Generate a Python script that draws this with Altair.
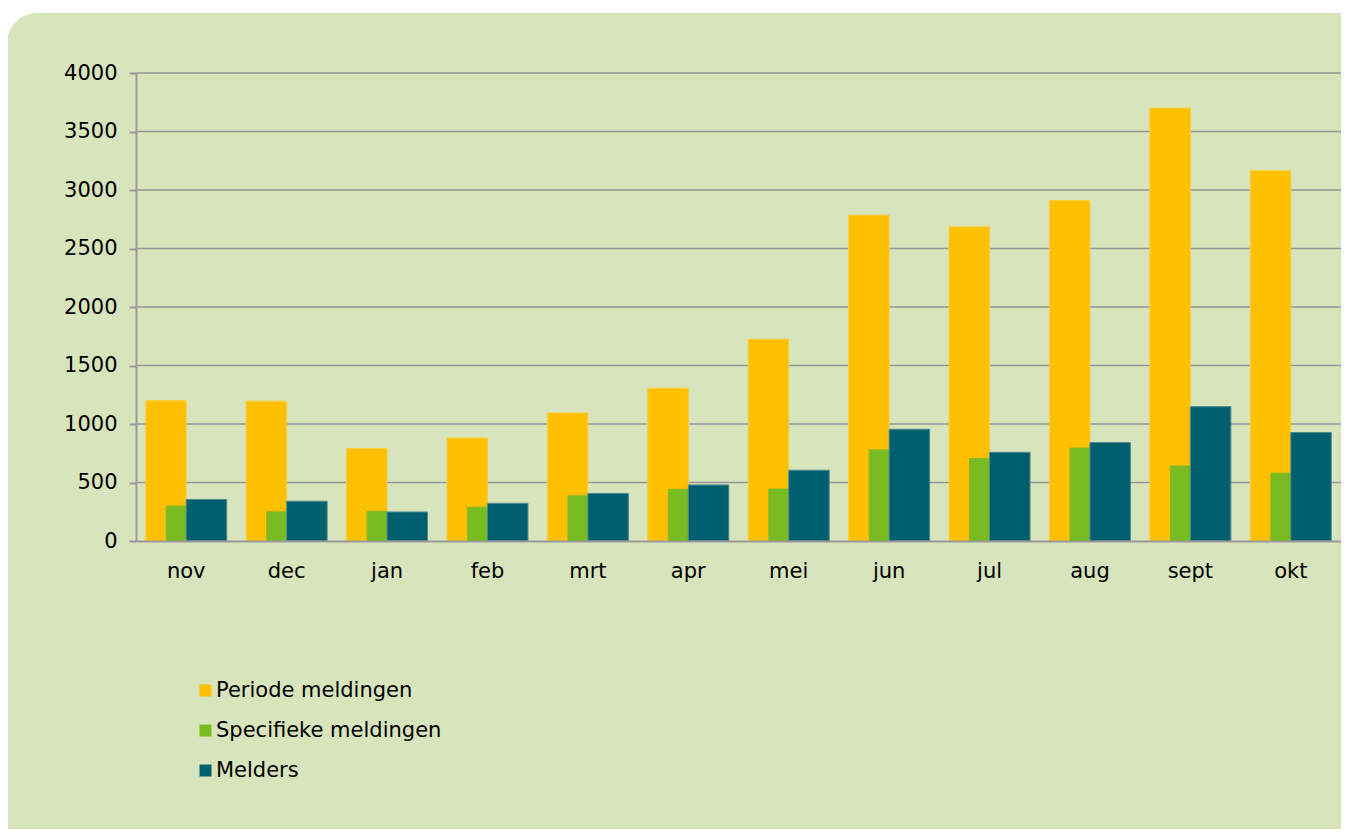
import altair as alt
import pandas as pd

months = ["nov", "dec", "jan", "feb", "mrt", "apr", "mei", "jun", "jul", "aug", "sept", "okt"]
periode = [1200, 1195, 790, 880, 1095, 1305, 1725, 2785, 2685, 2910, 3700, 3165]
specifiek = [300, 250, 255, 288, 387, 442, 445, 780, 705, 795, 642, 580]
melders = [355, 340, 248, 322, 407, 479, 605, 955, 758, 842, 1148, 927]
series_names = ["Periode meldingen", "Specifieke meldingen", "Melders"]
series_colors = ["#FFC000", "#79BC21", "#005F6E"]
y_ticks = [0, 500, 1000, 1500, 2000, 2500, 3000, 3500, 4000]

rows = []
for name, vals in zip(series_names, [periode, specifiek, melders]):
    for m, v in zip(months, vals):
        rows.append({"maand": m, "reeks": name, "waarde": v})
df = pd.DataFrame(rows)

W, H = 1205, 468
FONT = "DejaVu Sans"

x_enc = alt.X("maand:N", sort=months, title=None,
              scale=alt.Scale(paddingInner=0, paddingOuter=0),
              axis=alt.Axis(labelAngle=0, ticks=False, labelFontSize=21, labelPadding=19,
                            domainColor="#999999", domainWidth=2, grid=False, zindex=1,
                            labelColor="#000000", labelFont=FONT))
y_enc = alt.Y("waarde:Q", title=None,
              scale=alt.Scale(domain=[0, 4000], nice=False),
              axis=alt.Axis(values=y_ticks, format="d", grid=False, tickSize=7,
                            tickColor="#999999", tickWidth=2, domainColor="#999999",
                            domainWidth=2, labelFontSize=21, labelPadding=12, zindex=1,
                            labelColor="#000000", labelFont=FONT))
color_enc = alt.Color("reeks:N",
                      scale=alt.Scale(domain=series_names, range=series_colors),
                      legend=alt.Legend(title=None, orient="none", legendX=59, legendY=607,
                                        padding=0, symbolType="square", symbolSize=144,
                                        symbolStrokeWidth=0, labelFontSize=21,
                                        labelFont=FONT, labelColor="#000000",
                                        labelOffset=0, labelLimit=600, rowPadding=18,
                                        zindex=1))

background = alt.Chart(alt.Data(values=[{"a": 1}])).mark_rect(
    color="#D8E4BC", cornerRadius=30
).encode(x=alt.value(-129), x2=alt.value(W + 60), y=alt.value(-60), y2=alt.value(H + 320))

grid = alt.Chart(pd.DataFrame({"waarde": y_ticks[1:]})).mark_rule(
    color="#969696", strokeWidth=1.5
).encode(y=y_enc, x=alt.value(0), x2=alt.value(W))

base = alt.Chart(df)
bar_p = base.transform_filter(alt.datum.reeks == series_names[0]).mark_bar(
    width=40.5, xOffset=-20.25, stroke="#F4CF45", strokeWidth=1
).encode(x=x_enc, y=y_enc, color=color_enc)
bar_s = base.transform_filter(alt.datum.reeks == series_names[1]).mark_bar(
    width=20, xOffset=-10, stroke="#7FB830", strokeWidth=0.8
).encode(x=x_enc, y=y_enc, color=color_enc)
bar_m = base.transform_filter(alt.datum.reeks == series_names[2]).mark_bar(
    width=40.5, xOffset=20.25, stroke="#4E8A90", strokeWidth=1
).encode(x=x_enc, y=y_enc, color=color_enc)

chart = alt.layer(background, grid, bar_p, bar_s, bar_m).properties(
    width=W, height=H,
    autosize=alt.AutoSizeParams(type="none"),
    padding={"left": 128, "top": 65, "right": 0, "bottom": 288},
    background="#FFFFFF",
).configure_view(stroke=None).configure_axis(labelFont=FONT)

chart.save("out.html", embed_options={"renderer": "svg", "actions": False})
